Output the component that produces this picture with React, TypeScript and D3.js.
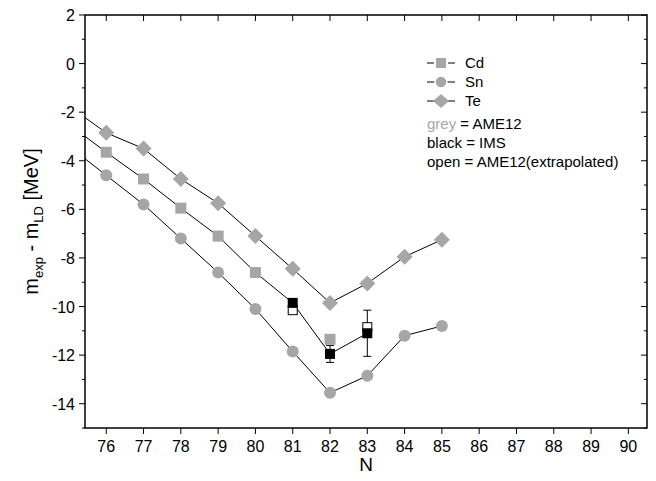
import React from 'react';
import * as d3 from 'd3';

const nAll = [75, 76, 77, 78, 79, 80, 81, 82, 83, 84, 85];
const teVals = [-1.75, -2.85, -3.5, -4.75, -5.75, -7.1, -8.45, -9.85, -9.05, -7.95, -7.25];
const snVals = [-3.4, -4.6, -5.8, -7.2, -8.6, -10.1, -11.85, -13.55, -12.85, -11.2, -10.8];
// Cd line runs through grey points up to 80, then through IMS (black) points
const cdLineN = [75, 76, 77, 78, 79, 80, 81, 82, 83];
const cdLineVals = [-2.5, -3.65, -4.75, -5.95, -7.1, -8.6, -9.85, -11.95, -11.1];
const cdGreyN = [76, 77, 78, 79, 80, 82];
const cdGreyVals = [-3.65, -4.75, -5.95, -7.1, -8.6, -11.35];
const cdOpenN = [81, 83];
const cdOpenVals = [-10.15, -10.85];
const cdBlackN = [81, 82, 83];
const cdBlackVals = [-9.85, -11.95, -11.1];
const cdErrLo = [-9.85, -12.3, -12.05];
const cdErrHi = [-9.85, -11.6, -10.15];
const xTicks = d3.range(76, 91);
const yTicks = d3.range(-14, 3, 2);

const W = 656, H = 481;
const grey = '#a6a6a6';
const font = 'Liberation Sans, Arial, sans-serif';

export default function App() {
  const x = d3.scaleLinear().domain([75.43, 90.5]).range([85, 647]);
  const y = d3.scaleLinear().domain([-15, 2]).range([428, 15]);
  const line = (ns: number[], vs: number[]) =>
    d3.line<number>().x((_, i) => x(ns[i])).y(v => y(v))(vs) as string;
  const sq = 11;
  const diamond = (cx: number, cy: number) => `M${cx},${cy - 8}L${cx + 8},${cy}L${cx},${cy + 8}L${cx - 8},${cy}Z`;
  const x0 = x.range()[0], x1 = x.range()[1], y0 = y.range()[0], y1 = y.range()[1];
  return (
    <svg width={W} height={H} style={{ position: 'absolute', left: 0, top: 0 }} fontFamily={font}>
      <defs>
        <clipPath id="clip"><rect x={x0} y={y1} width={x1 - x0} height={y0 - y1} /></clipPath>
      </defs>
      <g clipPath="url(#clip)" fill="none" stroke="#000" strokeWidth={1}>
        <path d={line(nAll, teVals)} />
        <path d={line(nAll, snVals)} />
        <path d={line(cdLineN, cdLineVals)} />
      </g>
      {cdBlackN.map((n, i) => (
        <g key={'e' + n} stroke="#000" strokeWidth={1}>
          <line x1={x(n)} x2={x(n)} y1={y(cdErrLo[i])} y2={y(cdErrHi[i])} />
          <line x1={x(n) - 4} x2={x(n) + 4} y1={y(cdErrLo[i])} y2={y(cdErrLo[i])} />
          <line x1={x(n) - 4} x2={x(n) + 4} y1={y(cdErrHi[i])} y2={y(cdErrHi[i])} />
        </g>
      ))}
      {nAll.slice(1).map((n, i) => (
        <path key={'t' + n} d={diamond(x(n), y(teVals[i + 1]))} fill={grey} />
      ))}
      {nAll.slice(1).map((n, i) => (
        <circle key={'s' + n} cx={x(n)} cy={y(snVals[i + 1])} r={6} fill={grey} />
      ))}
      {cdGreyN.map((n, i) => (
        <rect key={'c' + n} x={x(n) - sq / 2} y={y(cdGreyVals[i]) - sq / 2} width={sq} height={sq} fill={grey} />
      ))}
      {cdOpenN.map((n, i) => (
        <rect key={'o' + n} x={x(n) - 4.5} y={y(cdOpenVals[i]) - 4.5} width={9} height={9} fill="#fff" stroke="#000" strokeWidth={1} />
      ))}
      {cdBlackN.map((n, i) => (
        <rect key={'b' + n} x={x(n) - 5} y={y(cdBlackVals[i]) - 5} width={10} height={10} fill="#000" />
      ))}
      {/* frame */}
      <rect x={x0} y={y1} width={x1 - x0} height={y0 - y1} fill="none" stroke="#000" strokeWidth={1.5} />
      {xTicks.map(t => (
        <g key={'xt' + t} stroke="#000" strokeWidth={1}>
          <line x1={x(t)} x2={x(t)} y1={y0} y2={y0 + 6} />
          <line x1={x(t)} x2={x(t)} y1={y1} y2={y1 + 6} />
        </g>
      ))}
      {d3.range(-15, 3, 1).map(t => {
        const major = t % 2 === 0;
        return (
          <g key={'yt' + t} stroke="#000" strokeWidth={1}>
            <line x1={x0} x2={x0 - (major ? 6 : 3)} y1={y(t)} y2={y(t)} />
            <line x1={x1} x2={x1 - (major ? 6 : 3)} y1={y(t)} y2={y(t)} />
          </g>
        );
      })}
      {xTicks.map(t => (
        <text key={'xl' + t} x={x(t)} y={y0 + 24} textAnchor="middle" fontSize={16}>{t}</text>
      ))}
      {yTicks.map(t => (
        <text key={'yl' + t} x={x0 - 10} y={y(t) + 6} textAnchor="end" fontSize={16}>{t}</text>
      ))}
      <text x={(x0 + x1) / 2} y={471} textAnchor="middle" fontSize={19}>N</text>
      <text transform={`translate(38,${(y0 + y1) / 2}) rotate(-90)`} textAnchor="middle" fontSize={20}>
        m<tspan fontSize={13} dy={5}>exp</tspan><tspan dy={-5}> - m</tspan><tspan fontSize={13} dy={5}>LD</tspan><tspan dy={-5}> [MeV]</tspan>
      </text>
      {/* legend */}
      <g fontSize={15}>
        {[
          ['Cd', 'sq'], ['Sn', 'ci'], ['Te', 'di'],
        ].map(([label, m], i) => {
          const cy = 63 + i * 19;
          const cx = 441;
          return (
            <g key={label}>
              <line x1={427} x2={455} y1={cy} y2={cy} stroke="#000" />
              {m === 'sq' && <rect x={cx - 6} y={cy - 6} width={12} height={12} fill={grey} stroke="#fff" strokeWidth={2} />}
              {m === 'ci' && <circle cx={cx} cy={cy} r={6} fill={grey} stroke="#fff" strokeWidth={1.5} />}
              {m === 'di' && <path d={`M${cx},${cy - 7}L${cx + 8},${cy}L${cx},${cy + 7}L${cx - 8},${cy}Z`} fill={grey} />}
              <text x={465} y={cy + 5}>{label}</text>
            </g>
          );
        })}
        <text x={427} y={129}><tspan fill={grey}>grey</tspan> = AME12</text>
        <text x={427} y={148}>black = IMS</text>
        <text x={427} y={167}>open = AME12(extrapolated)</text>
      </g>
    </svg>
  );
}
